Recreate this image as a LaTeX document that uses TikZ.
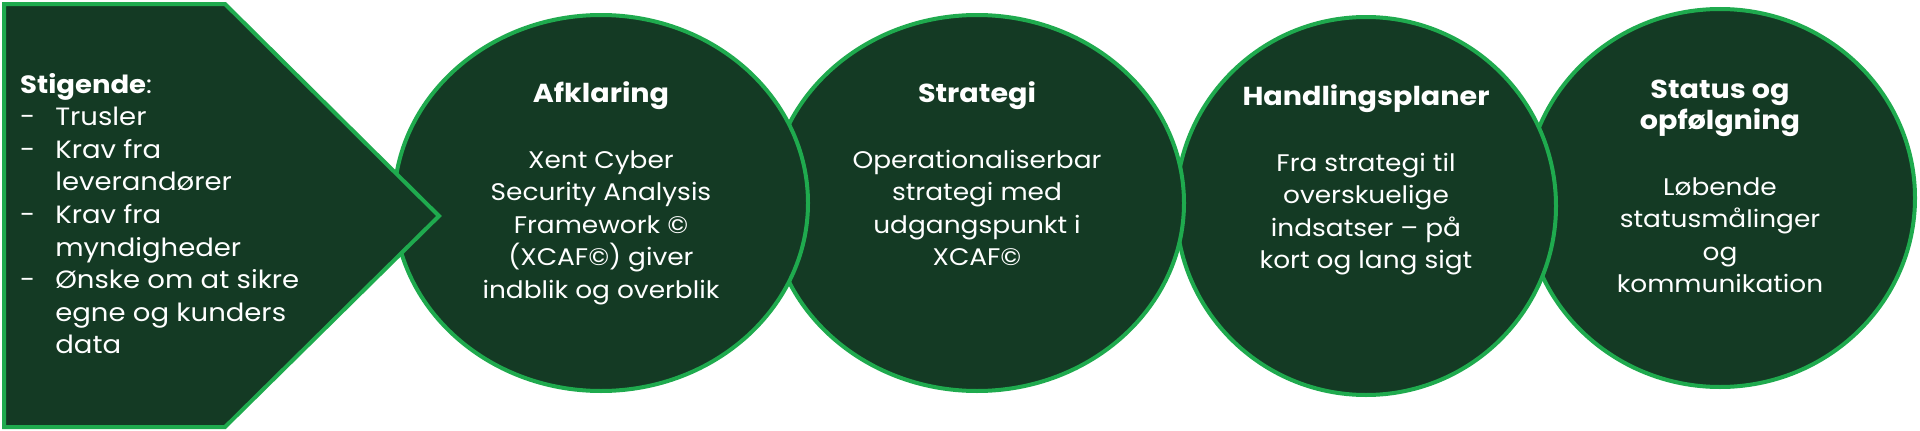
\documentclass[tikz,border=0pt]{standalone}
\usepackage{fontspec}
\setmainfont{Poppins}[FakeStretch=1.1]
\usetikzlibrary{shapes.geometric}
\definecolor{fillgreen}{HTML}{143A24}
\definecolor{edgegreen}{HTML}{1FAA4E}
\tikzset{
  disc/.style={ellipse, draw=edgegreen, fill=fillgreen, line width=4pt, inner sep=0pt},
  txt/.style={anchor=base, text=white, inner sep=0pt, font=\fontsize{24}{32.5}\selectfont},
  ttl/.style={anchor=base, text=white, inner sep=0pt, font=\fontsize{26}{31}\selectfont\bfseries},
}
\newcommand{\mlines}[1]{\begin{tabular}[t]{@{}c@{}}#1\end{tabular}}
\begin{document}
\begin{tikzpicture}[x=1pt,y=-1pt]
\useasboundingbox (0,0) rectangle (1920,431);
% back to front
\node[disc, minimum width=390pt, minimum height=378pt] (e4) at (1720,198) {};
\node[disc, minimum width=380pt, minimum height=378pt] (e3) at (1366,206) {};
\node[disc, minimum width=414pt, minimum height=376pt] (e2) at (977,203) {};
\node[disc, minimum width=414pt, minimum height=376pt] (e1) at (601,203) {};
\draw[draw=edgegreen, fill=fillgreen, line width=4pt, line join=miter]
  (4,4) -- (225,4) -- (439,216) -- (225,427) -- (4,427) -- cycle;
% left text
\node[anchor=base west, text=white, inner sep=0pt, font=\fontsize{25}{32.6}\selectfont] (lt) at (20,93)
 {\begin{tabular}[t]{@{}l@{\hspace{20pt}}l@{}}
 \multicolumn{2}{@{}l@{}}{\textbf{Stigende}:}\\
 -&Trusler\\
 -&Krav fra\\
  &leverandører\\
 -&Krav fra\\
  &myndigheder\\
 -&Ønske om at sikre\\
  &egne og kunders\\
  &data
 \end{tabular}};
% titles
\node[ttl] (t1) at (601,102) {Afklaring};
\node[ttl] (t2) at (977,102) {Strategi};
\node[ttl] (t3) at (1366,105) {Handlingsplaner};
\node[ttl] (t4) at (1720,98) {\mlines{Status og\\opfølgning}};
% bodies
\node[txt] (b1) at (601,168) {\mlines{Xent Cyber\\Security Analysis\\Framework ©\\(XCAF©) giver\\indblik og overblik}};
\node[txt] (b2) at (977,168) {\mlines{Operationaliserbar\\strategi med\\udgangspunkt i\\XCAF©}};
\node[txt] (b3) at (1366,171) {\mlines{Fra strategi til\\overskuelige\\indsatser – på\\kort og lang sigt}};
\node[txt] (b4) at (1720,195) {\mlines{Løbende\\statusmålinger\\og\\kommunikation}};
\end{tikzpicture}
\end{document}
